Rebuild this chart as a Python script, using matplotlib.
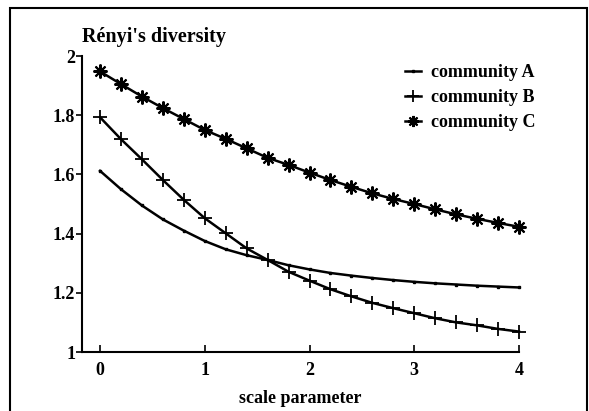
import matplotlib.pyplot as plt
from matplotlib.patches import Rectangle

# scale parameter (order of the Renyi diversity)
scale = [0.0, 0.2, 0.4, 0.6, 0.8, 1.0, 1.2, 1.4, 1.6, 1.8, 2.0,
         2.2, 2.4, 2.6, 2.8, 3.0, 3.2, 3.4, 3.6, 3.8, 4.0]

community_a = [1.612, 1.55, 1.495, 1.448, 1.41, 1.375, 1.347, 1.327, 1.311, 1.293, 1.279,
               1.267, 1.258, 1.25, 1.243, 1.237, 1.232, 1.228, 1.224, 1.221, 1.218]
community_b = [1.793, 1.719, 1.651, 1.581, 1.514, 1.452, 1.401, 1.35, 1.311, 1.271, 1.241,
               1.212, 1.188, 1.166, 1.148, 1.131, 1.114, 1.10, 1.09, 1.078, 1.069]
community_c = [1.948, 1.905, 1.863, 1.824, 1.787, 1.75, 1.72, 1.688, 1.656, 1.632, 1.606,
               1.581, 1.558, 1.536, 1.517, 1.50, 1.482, 1.465, 1.45, 1.436, 1.423]

xticks = [0, 1, 2, 3, 4]
yticks = [1, 1.2, 1.4, 1.6, 1.8, 2]
ytick_labels = ["1", "1.2", "1.4", "1.6", "1.8", "2"]

W, H = 589, 411
plt.rcParams["font.family"] = "Liberation Serif"
plt.rcParams["font.weight"] = "bold"

fig = plt.figure(figsize=(W / 100, H / 100), dpi=100)
ax = fig.add_axes([82 / W, 59 / H, 437 / W, 296 / H])

ax.plot(scale, community_a, color="black", lw=1.8, marker="s", ms=2,
        clip_on=False, label="community A")
ax.plot(scale, community_b, color="black", lw=1.8, marker="+", ms=10, mew=1.3,
        clip_on=False, label="community B")
ax.plot(scale, community_c, color="black", lw=1.8, marker=(8, 2, 0), ms=10, mew=1.5,
        clip_on=False, label="community C")

ax.set_xlim(-0.172, 4)
ax.set_ylim(1, 2)
ax.set_xticks(xticks)
ax.set_yticks(yticks)
ax.set_yticklabels(ytick_labels)
ax.spines["top"].set_visible(False)
ax.spines["right"].set_visible(False)
ax.spines["left"].set_linewidth(1.5)
ax.spines["bottom"].set_linewidth(1.5)
ax.tick_params(axis="x", direction="in", length=5, width=1.2, labelsize=13, pad=7)
ax.tick_params(axis="y", direction="out", length=4, width=1.2, labelsize=13, pad=1)
for lab in ax.get_xticklabels() + ax.get_yticklabels():
    lab.set_fontweight("bold")

ax.set_xlabel("scale parameter", fontsize=13, fontweight="bold", labelpad=8)
fig.text(82 / W, 1 - 37 / H, "Rényi's diversity", fontsize=14.5,
         fontweight="bold", va="center", ha="left")

leg = fig.legend(loc="upper left", bbox_to_anchor=(405 / W, 1 - 64 / H),
                 frameon=False, fontsize=13, handlelength=0.9, handletextpad=0.55,
                 labelspacing=0.45, borderpad=0, borderaxespad=0, markerscale=0.8)
for t in leg.get_texts():
    t.set_fontweight("bold")

# frame around the whole figure (bottom edge falls outside the picture)
fig.patches.append(Rectangle((10 / W, -5 / H), 577 / W, 408 / H,
                             transform=fig.transFigure, fill=False,
                             edgecolor="black", lw=1.5))

fig.savefig("out.png", dpi=100)
